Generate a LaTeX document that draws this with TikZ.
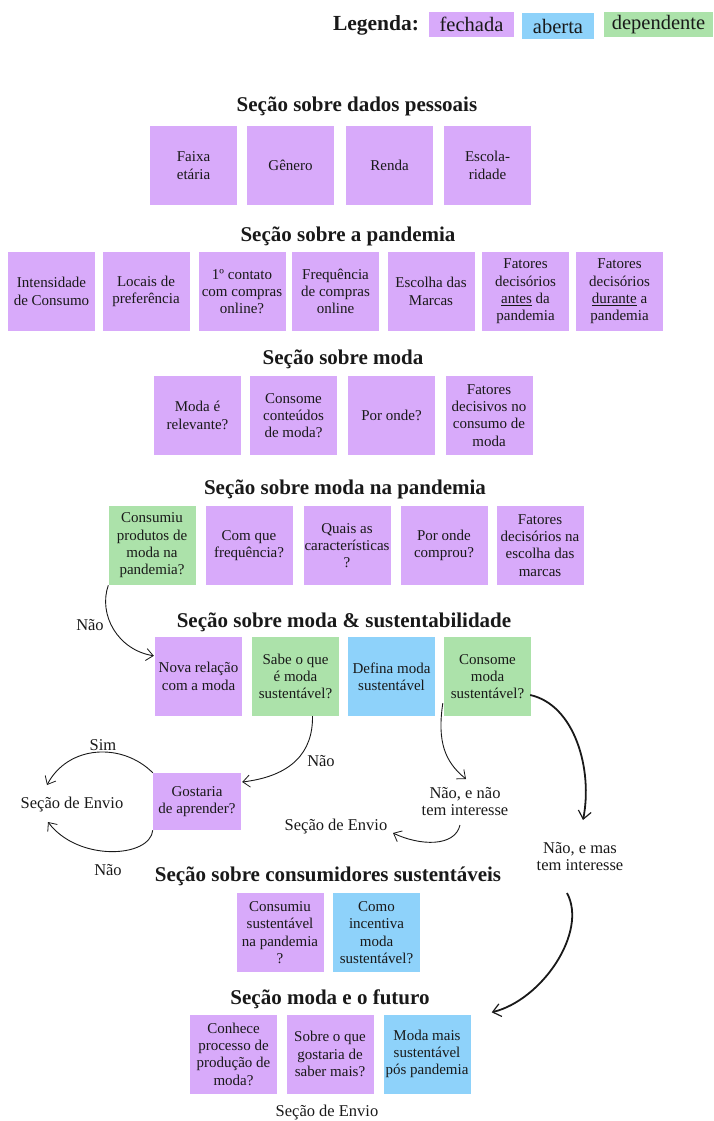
\documentclass[tikz,border=0pt]{standalone}
\usepackage{fontspec}
\setmainfont{Liberation Serif}
\usetikzlibrary{arrows.meta,calc}
\definecolor{fech}{RGB}{216,170,250}
\definecolor{aber}{RGB}{142,210,250}
\definecolor{depe}{RGB}{172,226,170}
\definecolor{ink}{RGB}{25,25,25}
\begin{document}
\begin{tikzpicture}[x=1pt,y=-1pt,
  qbox/.style={rectangle,minimum width=87pt,minimum height=79pt,inner sep=0pt,align=center,text=ink,font=\fontsize{15}{17.3}\selectfont},
  fe/.style={qbox,fill=fech},
  ab/.style={qbox,fill=aber},
  de/.style={qbox,fill=depe},
  ttl/.style={font=\fontsize{21}{24}\selectfont\bfseries,text=ink,inner sep=0pt},
  lbl/.style={font=\fontsize{16.5}{17}\selectfont,text=ink,align=center,inner sep=0pt},
  leg/.style={rectangle,inner sep=0pt,minimum height=25pt,text=ink,font=\fontsize{20.5}{24}\selectfont},
  arr/.style={draw=ink,line width=0.9pt,-{Straight Barb[length=7pt,width=12pt,line width=0.8pt]}},
  arrb/.style={draw=ink,line width=1.8pt,-{Straight Barb[length=8pt,width=13pt,line width=1.2pt]}}]
\useasboundingbox (0,0) rectangle (713,1121);
% legend
\node[font=\fontsize{21.5}{24}\selectfont\bfseries,text=ink,inner sep=0pt] (legt) at (376,25) {Legenda:};
\node[leg,fill=fech,minimum width=85pt] (legf) at (471.5,24.5) {fechada};
\node[leg,fill=aber,minimum width=72pt,minimum height=26pt] (lega) at (558,26) {aberta};
\node[leg,fill=depe,minimum width=109pt] (legd) at (658.5,24.5) {dependente};
% section 1
\node[ttl] (t1) at (357,106) {Seção sobre dados pessoais};
\node[fe] (c11) at (193.5,165.5) {Faixa\\etária};
\node[fe] (c12) at (290.5,165.5) {Gênero};
\node[fe] (c13) at (389.5,165.5) {Renda};
\node[fe] (c14) at (487.5,165.5) {Escola-\\ridade};
% section 2
\node[ttl] (t2) at (348,236) {Seção sobre a pandemia};
\node[fe] (c21) at (51.5,291.5) {Intensidade\\de Consumo};
\node[fe] (c22) at (146,291.5) {Locais de\\preferência};
\node[fe] (c23) at (242,291.5) {1º contato\\com compras\\online?};
\node[fe] (c24) at (335.5,291.5) {Frequência\\de compras\\online};
\node[fe] (c25) at (431,291.5) {Escolha das\\Marcas};
\node[fe] (c26) at (525.5,291.5) {Fatores\\decisórios\\\underline{antes} da\\pandemia};
\node[fe] (c27) at (619.5,291.5) {Fatores\\decisórios\\\underline{durante} a\\pandemia};
% section 3
\node[ttl] (t3) at (343,359) {Seção sobre moda};
\node[fe] (c31) at (197.5,415.5) {Moda é\\relevante?};
\node[fe] (c32) at (293.5,415.5) {Consome\\conteúdos\\de moda?};
\node[fe] (c33) at (391.5,415.5) {Por onde?};
\node[fe] (c34) at (489,415.5) {Fatores\\decisivos no\\consumo de\\moda};
% section 4
\node[ttl] (t4) at (345,489) {Seção sobre moda na pandemia};
\node[de] (c41) at (152,545.5) {Consumiu\\produtos de\\moda na\\pandemia?};
\node[fe] (c42) at (249,545.5) {Com que\\frequência?};
\node[fe] (c43) at (347,545.5) {Quais as\\características\\?};
\node[fe] (c44) at (444,545.5) {Por onde\\comprou?};
\node[fe] (c45) at (540,545.5) {Fatores\\decisórios na\\escolha das\\marcas};
% section 5
\node[ttl] (t5) at (344,622) {Seção sobre moda \& sustentabilidade};
\node[fe] (c51) at (198.5,676.5) {Nova relação\\com a moda};
\node[de] (c52) at (295.5,676.5) {Sabe o que\\é moda\\sustentável?};
\node[ab] (c53) at (391.5,676.5) {Defina moda\\sustentável};
\node[de] (c54) at (487.5,676.5) {Consome\\moda\\sustentável?};
\node[fe,minimum width=88pt,minimum height=57pt] (gost) at (197,801.5) {Gostaria\\de aprender?};
% labels
\node[lbl] (nao1) at (90,625) {Não};
\node[lbl] (nao2) at (321,761) {Não};
\node[lbl] (sim) at (103,745) {Sim};
\node[lbl] (nao3) at (108,870) {Não};
\node[lbl] (envA) at (72,805) {Seção de Envio};
\node[lbl] (nenao) at (465,802) {Não, e não\\tem interesse};
\node[lbl] (envB) at (336,827) {Seção de Envio};
\node[lbl] (nemas) at (580,857) {Não, e mas\\tem interesse};
% section 6
\node[ttl] (t6) at (328,876) {Seção sobre consumidores sustentáveis};
\node[fe] (c61) at (280,932.5) {Consumiu\\sustentável\\na pandemia\\?};
\node[ab] (c62) at (376.5,932.5) {Como\\incentiva\\moda\\sustentável?};
% section 7
\node[ttl] (t7) at (330,999) {Seção moda e o futuro};
\node[fe] (c71) at (233.5,1054) {Conhece\\processo de\\produção de\\moda?};
\node[fe] (c72) at (330,1054) {Sobre o que\\gostaria de\\saber mais?};
\node[ab] (c73) at (427,1054) {Moda mais\\sustentável\\pós pandemia};
\node[lbl] (envC) at (327,1113) {Seção de Envio};
% connectors
\draw[arr] (c41.south west) .. controls (98,615) and (118,650) .. ($(c51.north west)+(-1,19)$);
\draw[arr] ($(c52.south)+(17,0)$) .. controls (313,752) and (292,776) .. ($(gost.east)+(1,-19.5)$);
\draw[arr] (gost.north west) .. controls (122,742) and (68,745) .. ($(envA)+(-25,-20)$);
\draw[arr] (gost.south west) .. controls (150,858) and (78,862) .. ($(envA)+(-24,17)$);
\draw[arr] ($(c54.south west)+(-1,-13)$) .. controls (437,742) and (445,762) .. ($(nenao)+(1,-23)$);
\draw[arr] ($(nenao)+(-5,23)$) .. controls (455,847) and (420,846) .. ($(envB)+(57,6)$);
\draw[arrb] ($(c54.east)+(-1,18.5)$) .. controls (575,705) and (593,770) .. ($(nemas)+(3,-37)$);
\draw[arrb] ($(nemas)+(-13,36)$) .. controls (588,932) and (542,1000) .. ($(c73.north east)+(21,-2)$);
\end{tikzpicture}
\end{document}
